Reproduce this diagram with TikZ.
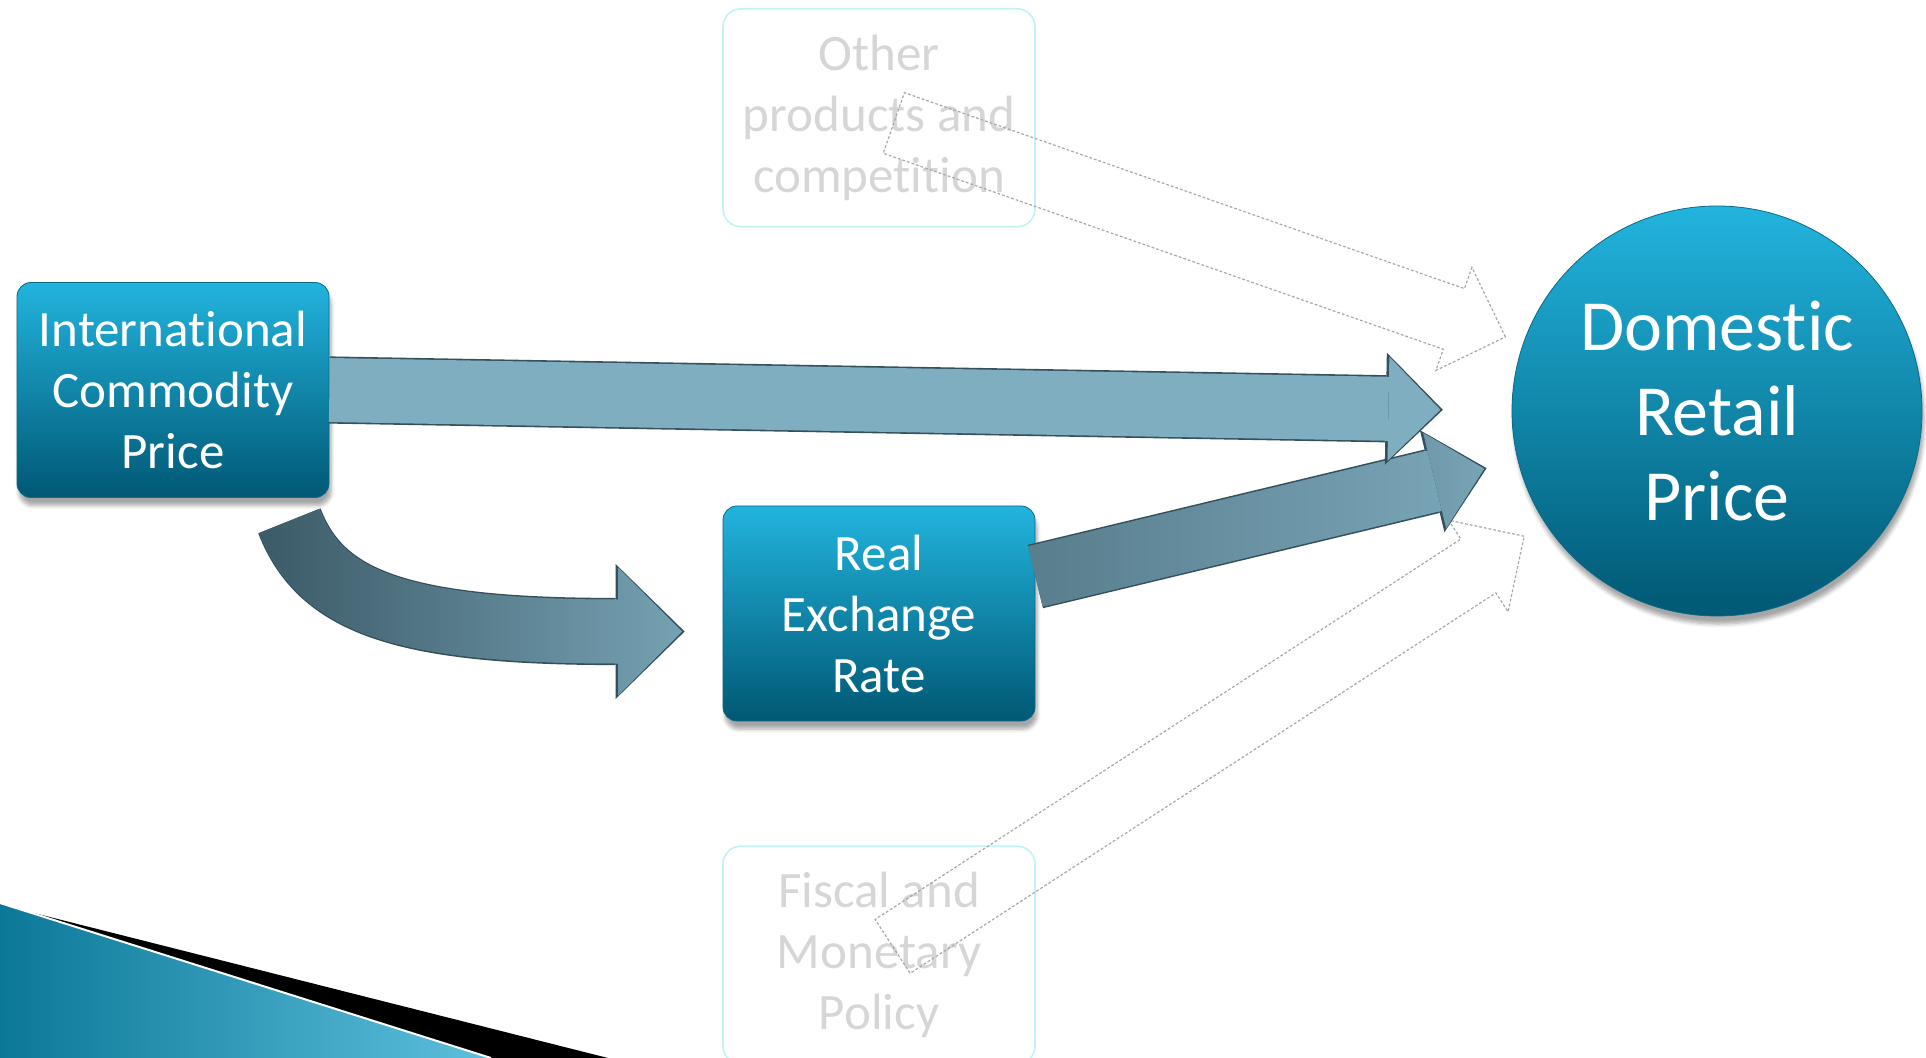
\documentclass[tikz,border=0pt]{standalone}
\usepackage{fontspec}
\setmainfont[RawFeature={-liga;-clig;-calt;-dlig}]{Carlito}
\usetikzlibrary{positioning,shapes.arrows,arrows.meta,shadows.blur,fadings}

\definecolor{boxlight}{HTML}{22B4DE}
\definecolor{boxdark}{HTML}{005874}
\definecolor{boxrim}{HTML}{0A6A88}
\definecolor{arrowsteel}{HTML}{80AEC1}
\definecolor{arrowdeep}{HTML}{3C5A67}
\definecolor{arrowrim}{HTML}{34505B}
\definecolor{faintrim}{HTML}{C2F2F6}
\definecolor{fainttext}{HTML}{D6D6D6}
\definecolor{hollowline}{HTML}{A8A8A8}
\definecolor{decoblue}{HTML}{0C7898}
\definecolor{decolight}{HTML}{5DC0DC}

\tikzfading[name=fadetoright, left color=transparent!0, right color=transparent!100]

\begin{document}
\begin{tikzpicture}[
    x=0.5pt, y=-0.5pt,
    factor/.style={draw=boxrim, rounded corners=7pt, top color=boxlight, bottom color=boxdark,
      text=white, align=center, minimum width=156pt, minimum height=107.5pt,
      font=\fontsize{25.5}{30.5}\selectfont,
      blur shadow={shadow xshift=1pt, shadow yshift=-4pt, shadow blur steps=6, shadow opacity=35}},
    target/.style={circle, draw=boxrim, top color=boxlight, bottom color=boxdark, inner sep=0pt,
      text=white, align=center, minimum size=205pt, font=\fontsize{36}{42.5}\selectfont,
      blur shadow={shadow xshift=1pt, shadow yshift=-4pt, shadow blur steps=6, shadow opacity=35}},
    faint/.style={draw=faintrim, line width=0.8pt, rounded corners=9pt, fill=white,
      text=fainttext, align=center, minimum width=156pt, minimum height=109pt,
      font=\fontsize{25.5}{30.5}\selectfont},
    hollow/.style={single arrow, draw=hollowline, line width=0.6pt, dash pattern=on 1.4pt off 1pt,
      sloped, inner xsep=0pt, inner ysep=15.75pt, single arrow head extend=11.25pt, single arrow tip angle=90},
    rimline/.style={draw=arrowrim, line width=33.6pt},
    steelline/.style={draw=arrowsteel, line width=32pt},
    deepline/.style={draw=arrowdeep, line width=32pt, path fading=fadetoright}
  ]
  \useasboundingbox (0,0) rectangle (1926,1058);

  \shade[left color=decoblue, right color=decolight] (0,903) -- (491,1058) -- (0,1058) -- cycle;
  \fill[black] (30,912) -- (608,1058) -- (491,1058) -- cycle;
  \draw[white, line width=1pt] (0,903) -- (491,1058);

  \node[factor] (icp) at (173,390) {International\\Commodity\\Price};
  \node[factor] (rer) at (879,613.5) {Real\\Exchange\\Rate};
  \node[target] (drp) at (1717,411) {Domestic\\Retail\\Price};
  \node[faint, above=139pt of rer] (other) {Other\\products and\\competition};
  \node[faint, below=62pt of rer] (policy) {Fiscal and\\Monetary\\Policy};

  \path (other.center) -- node[hollow, pos=.3645, minimum height=324pt] (otherflow) {} (drp.center);
  \path (policy.center) -- node[hollow, pos=.377, minimum height=376.5pt] (policyflow) {} (drp.center);

  \draw[rimline, line width=32.6pt, shorten >=16pt, -{Triangle[length=28pt,width=52.5pt,line width=0pt]},
    postaction={steelline, line width=31pt, shorten >=17.2pt, -{Triangle[length=25.5pt,width=49pt,line width=0pt]}},
    postaction={deepline, line width=31pt, draw opacity=.6, shorten >=17.2pt, -{Triangle[length=25.5pt,width=49pt,line width=0pt]}}]
    ([yshift=18.5pt]rer.east) -- (drp.194);

  \draw[rimline, shorten >=19pt, -{Triangle[length=34.5pt,width=67.5pt,line width=0pt]},
    postaction={steelline, shorten >=20.2pt, -{Triangle[length=32pt,width=64pt,line width=0pt]}},
    postaction={deepline, shorten >=20.2pt, -{Triangle[length=32pt,width=64pt,line width=0pt]}}]
    ([xshift=-20pt,yshift=-11.5pt]icp.south east) .. controls +(31,80) and +(-324,0) .. ([yshift=-9pt]rer.west);

  \draw[rimline, shorten >=34.4pt, -{Triangle[length=28.5pt,width=56pt,line width=0pt]},
    postaction={steelline, shorten >=35.6pt, -{Triangle[length=26pt,width=52pt,line width=0pt]}}]
    (icp.east) -- (drp.west);
\end{tikzpicture}
\end{document}
